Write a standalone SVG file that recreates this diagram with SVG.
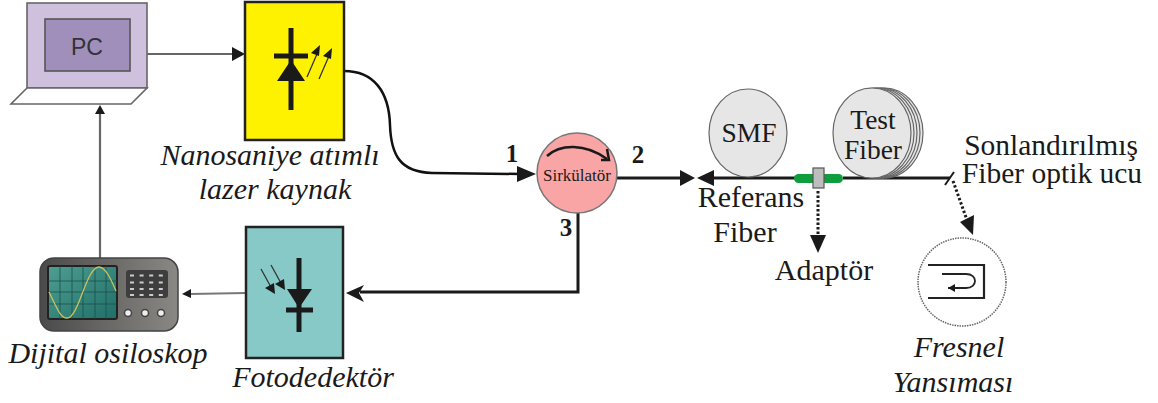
<svg xmlns="http://www.w3.org/2000/svg" width="1158" height="403" viewBox="0 0 1158 403">
<style>
text{font-family:"Liberation Serif","Times New Roman",serif;fill:#1a1a1a}
.it{font-style:italic;font-size:30px}
.rg{font-size:30px}
.sp{font-size:27.5px}
.num{font-size:25px;font-weight:bold}
.c{text-anchor:middle}
.wire{fill:none;stroke:#1a1a1a;stroke-width:3}
.gw{fill:none;stroke:#666;stroke-width:2.2}
.dot{fill:none;stroke:#1a1a1a;stroke-width:3;stroke-dasharray:2.5 2}
.spool{fill:#e6e6e6;stroke:#666;stroke-width:1.2}
.blk{fill:#1a1a1a}
</style>
<defs>
<linearGradient id="bez" x1="0" y1="0" x2="1" y2="0"><stop offset="0" stop-color="#4a4a4a"/><stop offset="1" stop-color="#8a8884"/></linearGradient>
<linearGradient id="scr" x1="0" y1="0" x2="1" y2="1"><stop offset="0" stop-color="#4f9e92"/><stop offset="1" stop-color="#1f6f68"/></linearGradient>
</defs>
<rect width="1158" height="403" fill="#fff"/>
<g id="connectors">
<path class="gw" d="M147 54H234" stroke-width="2"/><polygon class="blk" points="232,47 245,54 232,61"/>
<path class="gw" d="M100 258V113"/><polygon class="blk" points="100,105 95,114 105,114"/>
<path d="M344 71C374 71 389 92 390 125C391 155 400 172 432 173L520 174" fill="none" stroke="#111" stroke-width="2.500"/>
<polygon class="blk" points="517,166 536,174 517,182"/>
<path class="wire" d="M617 178H682"/><polygon class="blk" points="680,170 695,178 680,186"/>
<polygon class="blk" points="697,178 714,170 714,186"/>
<path class="wire" d="M712 178H795"/>
<path class="wire" d="M843 178H950"/>
<path d="M945 185L954 172" stroke="#1a1a1a" stroke-width="2" fill="none"/>
<path class="wire" d="M578 212V292H360"/><polygon class="blk" points="346,293 364,285 359,293 364,302"/>
<path d="M246 293L190 294" fill="none" stroke="#777" stroke-width="2"/><polygon class="blk" points="182,294 191,289 191,298"/>
<path class="dot" d="M818 191V236"/><polygon class="blk" points="810,235 826,235 818,253"/>
<path class="dot" d="M953 181L967 220"/><polygon class="blk" points="960,222 974,215 973,235"/>
</g>
<g id="pc">
<rect x="27" y="3" width="120" height="85" fill="#cfc1dd" stroke="#666" stroke-width="1.6"/>
<rect x="45" y="19" width="85" height="52" fill="#a18fbb" stroke="#555" stroke-width="1.6"/>
<polygon points="27,88 147,88 131,104 11,104" fill="#fff" stroke="#666" stroke-width="1.6"/>
<text x="87" y="55" class="c" style="font-family:'Liberation Sans',Arial,sans-serif;font-size:23px;fill:#333">PC</text>
</g>
<g id="laser">
<rect x="245" y="2" width="99" height="138" fill="#fff200" stroke="#222" stroke-width="2.500"/>
<path d="M291 28V110" stroke="#1a1a1a" stroke-width="5"/>
<path d="M274 56H308" stroke="#1a1a1a" stroke-width="5"/>
<polygon class="blk" points="277,81 305,81 291,60"/>
<path d="M307 77L317 54M319 79L329 56" stroke="#333" stroke-width="1.300" fill="none"/>
<polygon class="blk" points="320,45 311,53 319,56"/><polygon class="blk" points="332,48 323,56 331,59"/>
<text x="270" y="165" class="it c">Nanosaniye atımlı</text>
<text x="275" y="199" class="it c">lazer kaynak</text>
</g>
<g id="oscilloscope">
<rect x="40" y="258" width="138" height="73" rx="14" fill="url(#bez)" stroke="#444" stroke-width="1.500"/>
<rect x="48" y="266" width="69" height="53" rx="2" fill="url(#scr)" stroke="#222" stroke-width="2"/>
<path d="M48 281H117M48 292H117M48 304H117M60 266V319M72 266V319M83 266V319M95 266V319M106 266V319" stroke="#1c4f4b" stroke-width=".8"/>
<path d="M49 292C56 306 60 318 67 318C79 318 86 267 99 267C106 267 112 282 116 291" fill="none" stroke="#c9c25a" stroke-width="1.300"/>
<rect x="126" y="270" width="42" height="28" rx="3" fill="#3e3e3e"/>
<path d="M130 275.500h36M130 282.500h36M130 289h36M130 295h36" stroke="#ccc" stroke-width="2.200" stroke-dasharray="4 5.600"/>
<g fill="#eee" stroke="#444" stroke-width="1.500"><circle cx="128" cy="313" r="3.500"/><circle cx="145" cy="313" r="3.500"/><circle cx="161" cy="313" r="3.500"/></g>
<text x="108" y="363" class="it c">Dijital osiloskop</text>
</g>
<g id="fotodedektor">
<rect x="246" y="227" width="97" height="131" fill="#87c9c7" stroke="#222" stroke-width="2.500"/>
<path d="M299 258V332" stroke="#1a1a1a" stroke-width="5"/>
<path d="M286 310H313" stroke="#1a1a1a" stroke-width="5"/>
<polygon class="blk" points="287,289 312,289 299,308"/>
<path d="M261 269L272 289M271 265L282 285" stroke="#333" stroke-width="1.300" fill="none"/>
<polygon class="blk" points="275,294 265,288 274,283"/><polygon class="blk" points="285,290 275,284 284,279"/>
<text x="313" y="387" class="it c">Fotodedektör</text>
</g>
<g id="sirkulator">
<circle cx="577" cy="173" r="40" fill="#f9a5a5" stroke="#777" stroke-width="1.500"/>
<path d="M547 156C560 144 585 143 607 159" fill="none" stroke="#1a1a1a" stroke-width="2.500"/>
<path d="M601 160H609L607 149" fill="none" stroke="#1a1a1a" stroke-width="2.500"/>
<text x="577" y="181" class="c" style="font-size:17px">Sirkülatör</text>
</g>
<g id="labels-ports">
<text x="512" y="162" class="num c">1</text>
<text x="638" y="163" class="num c">2</text>
<text x="566" y="236" class="num c">3</text>
</g>
<g id="smf">
<ellipse cx="748" cy="133" rx="39" ry="44" class="spool"/>
<text x="749" y="142" class="sp c">SMF</text>
</g>
<g id="test-fiber">
<ellipse cx="884" cy="133" rx="39" ry="45" class="spool"/>
<ellipse cx="881" cy="133" rx="39" ry="45" class="spool"/>
<ellipse cx="878" cy="133" rx="39" ry="45" class="spool"/>
<ellipse cx="875" cy="133" rx="39" ry="45" class="spool"/>
<ellipse cx="872" cy="133" rx="39" ry="45" class="spool"/>
<text x="873" y="129" class="sp c">Test</text>
<text x="873" y="159" class="sp c">Fiber</text>
</g>
<g id="adaptor">
<rect x="794" y="174" width="49" height="9" rx="4.500" fill="#0f9d3e"/>
<rect x="813" y="168" width="11" height="20" fill="#bdbdbd" stroke="#555" stroke-width="1.200"/>
<text x="824" y="280" class="rg c">Adaptör</text>
</g>
<g id="labels-fiber">
<text x="751" y="207" class="rg c">Referans</text>
<text x="745" y="242" class="rg c">Fiber</text>
<text x="1051" y="155" class="rg c" style="font-size:29.5px">Sonlandırılmış</text>
<text x="1052" y="183" class="rg c" style="font-size:29.5px">Fiber optik ucu</text>
</g>
<g id="fresnel">
<circle cx="962" cy="282" r="44" fill="#fff" stroke="#666" stroke-width="1.500" stroke-dasharray="1.500 1"/>
<path d="M928 265H984V298H928" fill="none" stroke="#222" stroke-width="2.200"/>
<path d="M942 274H966C978 274 978 288 966 288H948" fill="none" stroke="#222" stroke-width="1.800"/>
<polygon class="blk" points="948,288 955,284 955,292"/>
<text x="959" y="357" class="it c">Fresnel</text>
<text x="953" y="392" class="it c">Yansıması</text>
</g>
</svg>
